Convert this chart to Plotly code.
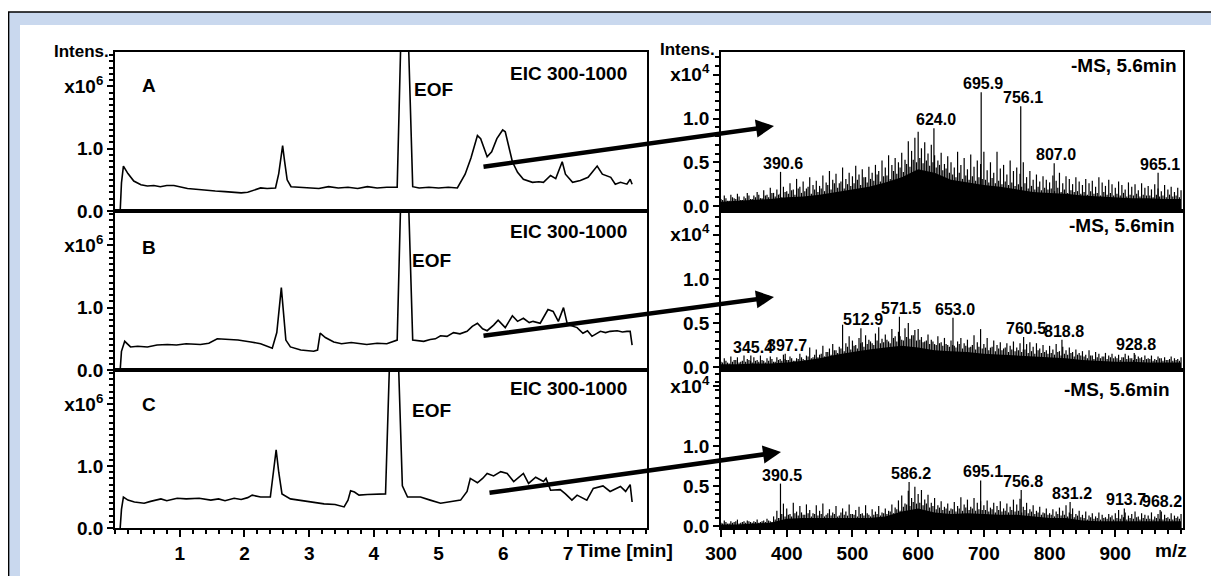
import plotly.graph_objects as go

W, H = 1219, 576
OFF = 8  # page body margin of the html page
FONT = "Liberation Sans"

# ---------------- chromatogram data (time [min], intensity x10^6) ----------------
time_a = [0.08,0.10,0.13,0.20,0.29,0.40,0.50,0.60,0.70,0.80,0.91,1.00,1.12,1.25,1.40,1.55,1.70,1.84,1.95,2.05,
          2.15,2.25,2.35,2.48,2.53,2.59,2.62,2.66,2.72,2.85,3.00,3.15,3.30,3.45,3.60,3.75,3.90,4.05,4.20,4.36,
          4.47,4.60,4.70,4.85,5.00,5.15,5.29,5.41,5.50,5.60,5.65,5.75,5.82,5.90,5.99,6.03,6.14,6.22,6.31,6.45,
          6.55,6.62,6.73,6.81,6.91,6.96,7.07,7.19,7.31,7.45,7.53,7.66,7.73,7.81,7.91,7.96,7.99]
int_a = [0.0,0.45,0.72,0.60,0.48,0.42,0.40,0.41,0.39,0.41,0.41,0.39,0.36,0.35,0.33,0.32,0.31,0.30,0.29,0.30,
         0.33,0.37,0.36,0.37,0.60,1.05,0.80,0.50,0.39,0.38,0.38,0.36,0.39,0.37,0.38,0.36,0.39,0.37,0.38,0.38,
         5.0,0.39,0.37,0.38,0.37,0.38,0.37,0.59,0.85,1.21,1.16,0.87,0.95,1.16,1.30,1.27,0.79,0.62,0.51,0.46,
         0.47,0.46,0.57,0.52,0.79,0.59,0.46,0.49,0.54,0.72,0.59,0.54,0.43,0.46,0.43,0.51,0.43]

time_b = [0.08,0.10,0.15,0.24,0.35,0.50,0.65,0.81,0.95,1.10,1.32,1.45,1.58,1.75,1.90,2.10,2.25,2.43,2.50,2.57,
          2.61,2.64,2.71,2.87,3.07,3.13,3.17,3.25,3.38,3.50,3.65,3.89,4.05,4.20,4.36,4.47,4.60,4.77,4.87,4.95,
          5.03,5.13,5.23,5.33,5.44,5.52,5.60,5.68,5.75,5.85,5.92,6.03,6.14,6.22,6.31,6.40,6.46,6.57,6.69,6.77,
          6.85,6.93,6.99,7.14,7.23,7.30,7.37,7.50,7.58,7.65,7.76,7.84,7.91,7.96,7.99]
int_b = [0.0,0.30,0.46,0.37,0.38,0.37,0.40,0.41,0.40,0.42,0.41,0.43,0.50,0.49,0.48,0.45,0.42,0.35,0.60,1.32,
         0.90,0.48,0.37,0.32,0.30,0.32,0.59,0.52,0.45,0.42,0.44,0.41,0.43,0.42,0.48,5.0,0.48,0.46,0.49,0.50,
         0.55,0.54,0.60,0.58,0.62,0.70,0.75,0.66,0.63,0.72,0.80,0.68,0.87,0.78,0.83,0.76,0.78,0.75,0.97,0.94,
         0.78,1.00,0.73,0.68,0.59,0.63,0.54,0.62,0.60,0.62,0.63,0.61,0.62,0.62,0.40]

time_c = [0.08,0.10,0.13,0.20,0.30,0.45,0.55,0.71,0.80,0.96,1.10,1.30,1.48,1.60,1.70,1.84,1.95,2.05,2.12,2.25,
          2.40,2.45,2.49,2.53,2.58,2.71,2.85,2.97,3.10,3.23,3.40,3.54,3.60,3.64,3.70,3.77,3.90,4.05,4.18,4.31,
          4.44,4.52,4.62,4.72,4.87,5.03,5.15,5.34,5.44,5.49,5.60,5.68,5.75,5.85,5.96,6.06,6.16,6.31,6.39,6.50,
          6.62,6.66,6.73,6.88,6.96,7.06,7.14,7.29,7.39,7.54,7.65,7.81,7.89,7.96,7.99]
int_c = [0.0,0.30,0.50,0.45,0.42,0.40,0.43,0.47,0.44,0.48,0.47,0.48,0.45,0.47,0.44,0.48,0.46,0.49,0.53,0.50,
         0.50,0.90,1.26,0.90,0.55,0.47,0.45,0.43,0.42,0.39,0.38,0.34,0.45,0.60,0.58,0.53,0.54,0.55,0.55,5.0,
         0.68,0.50,0.50,0.50,0.45,0.40,0.42,0.45,0.59,0.80,0.73,0.80,0.88,0.84,0.91,0.88,0.75,0.88,0.72,0.82,
         0.75,0.80,0.61,0.62,0.55,0.45,0.53,0.45,0.64,0.68,0.59,0.67,0.59,0.70,0.42]

# ---------------- mass spectra data (m/z, intensity x10^4) ----------------
spec_mz = list(range(300, 1001, 5))
spec_mz2 = [m + 2.5 for m in range(300, 1000, 5)]
spec_a = [0.08,0.12,0.06,0.13,0.09,0.14,0.07,0.11,0.15,0.08,
          0.12,0.16,0.09,0.18,0.13,0.21,0.15,0.19,0.14,0.22,
          0.17,0.26,0.19,0.31,0.22,0.28,0.20,0.33,0.24,0.29,
          0.23,0.35,0.27,0.40,0.30,0.37,0.26,0.44,0.31,0.38,
          0.34,0.46,0.36,0.42,0.33,0.45,0.38,0.47,0.40,0.52,
          0.44,0.58,0.47,0.55,0.50,0.61,0.53,0.74,0.63,0.78,
          0.85,0.66,0.73,0.60,0.70,0.58,0.52,0.61,0.48,0.57,
          0.50,0.44,0.62,0.47,0.55,0.42,0.59,0.45,0.52,0.48,
          0.62,0.41,0.50,0.38,0.62,0.43,0.47,0.36,0.52,0.40,
          0.44,0.37,0.50,0.33,0.40,0.30,0.36,0.28,0.34,0.30,
          0.27,0.35,0.29,0.38,0.26,0.34,0.31,0.25,0.33,0.28,
          0.24,0.31,0.26,0.29,0.22,0.33,0.27,0.23,0.30,0.25,
          0.21,0.28,0.24,0.19,0.27,0.22,0.25,0.18,0.26,0.21,
          0.23,0.19,0.25,0.20,0.17,0.24,0.19,0.22,0.16,0.21,
          0.18]
spec_a2 = [0.07,0.09,0.06,0.10,0.08,0.11,0.07,0.09,0.12,0.08,
           0.10,0.13,0.09,0.12,0.10,0.15,0.11,0.13,0.10,0.16,
           0.14,0.18,0.13,0.20,0.15,0.17,0.22,0.14,0.19,0.16,
           0.20,0.17,0.24,0.19,0.26,0.21,0.28,0.20,0.25,0.23,
           0.26,0.30,0.24,0.33,0.27,0.31,0.29,0.36,0.28,0.34,
           0.35,0.31,0.40,0.37,0.44,0.39,0.48,0.45,0.53,0.50,
           0.55,0.49,0.52,0.46,0.50,0.44,0.47,0.41,0.43,0.38,
           0.36,0.33,0.38,0.31,0.35,0.30,0.34,0.29,0.33,0.31,
           0.30,0.27,0.32,0.26,0.29,0.25,0.28,0.24,0.27,0.23,
           0.25,0.22,0.26,0.20,0.23,0.19,0.22,0.18,0.21,0.19,
           0.20,0.17,0.21,0.16,0.19,0.15,0.18,0.16,0.17,0.14,
           0.16,0.13,0.17,0.14,0.15,0.12,0.16,0.13,0.15,0.12,
           0.14,0.12,0.15,0.11,0.13,0.12,0.14,0.11,0.13,0.12,
           0.12,0.10,0.13,0.11,0.12,0.10,0.13,0.11,0.12,0.10]
spec_b = [0.06,0.10,0.05,0.12,0.08,0.11,0.06,0.13,0.09,0.07,
          0.11,0.08,0.13,0.07,0.10,0.12,0.06,0.11,0.09,0.14,
          0.08,0.12,0.07,0.10,0.15,0.09,0.13,0.22,0.11,0.20,
          0.14,0.24,0.17,0.21,0.26,0.19,0.23,0.48,0.27,0.35,
          0.30,0.25,0.33,0.28,0.36,0.31,0.27,0.38,0.45,0.32,
          0.37,0.29,0.43,0.35,0.40,0.31,0.44,0.50,0.36,0.42,
          0.43,0.34,0.29,0.37,0.31,0.26,0.35,0.28,0.33,0.25,
          0.30,0.24,0.29,0.33,0.27,0.31,0.23,0.36,0.28,0.43,
          0.26,0.33,0.22,0.30,0.25,0.28,0.21,0.27,0.24,0.29,
          0.22,0.27,0.20,0.26,0.28,0.23,0.27,0.21,0.25,0.19,
          0.24,0.20,0.26,0.18,0.23,0.19,0.22,0.17,0.20,0.16,
          0.18,0.14,0.19,0.13,0.17,0.15,0.12,0.16,0.13,0.15,
          0.12,0.14,0.11,0.15,0.13,0.10,0.14,0.12,0.11,0.13,
          0.10,0.13,0.09,0.12,0.10,0.11,0.08,0.12,0.10,0.09,
          0.11]
spec_b2 = [0.05,0.07,0.04,0.06,0.08,0.05,0.07,0.06,0.08,0.05,
           0.07,0.06,0.08,0.05,0.07,0.09,0.06,0.08,0.07,0.09,
           0.08,0.10,0.07,0.09,0.11,0.08,0.12,0.10,0.14,0.11,
           0.15,0.12,0.17,0.14,0.19,0.16,0.21,0.18,0.23,0.20,
           0.24,0.21,0.27,0.23,0.26,0.29,0.25,0.30,0.27,0.28,
           0.31,0.27,0.33,0.29,0.35,0.30,0.34,0.32,0.36,0.30,
           0.31,0.28,0.30,0.26,0.29,0.25,0.27,0.24,0.26,0.23,
           0.25,0.22,0.26,0.21,0.24,0.22,0.25,0.20,0.23,0.21,
           0.22,0.19,0.23,0.18,0.21,0.19,0.22,0.17,0.20,0.18,
           0.19,0.17,0.20,0.16,0.18,0.15,0.19,0.16,0.17,0.15,
           0.16,0.14,0.17,0.13,0.15,0.14,0.16,0.12,0.14,0.13,
           0.12,0.10,0.13,0.09,0.11,0.10,0.12,0.09,0.11,0.10,
           0.10,0.08,0.11,0.09,0.10,0.08,0.09,0.10,0.08,0.09,
           0.09,0.07,0.08,0.10,0.07,0.08,0.09,0.07,0.08,0.07]
spec_c = [0.04,0.07,0.03,0.06,0.05,0.08,0.04,0.06,0.07,0.05,
          0.06,0.08,0.05,0.07,0.09,0.06,0.12,0.19,0.10,0.28,
          0.22,0.15,0.29,0.18,0.25,0.14,0.27,0.20,0.16,0.26,
          0.19,0.28,0.14,0.21,0.17,0.25,0.13,0.22,0.18,0.27,
          0.15,0.20,0.24,0.16,0.26,0.14,0.21,0.18,0.25,0.17,
          0.22,0.19,0.27,0.23,0.32,0.38,0.28,0.44,0.35,0.49,
          0.40,0.45,0.33,0.39,0.29,0.35,0.26,0.31,0.24,0.28,
          0.22,0.30,0.25,0.36,0.27,0.33,0.24,0.35,0.29,0.31,
          0.26,0.32,0.23,0.29,0.25,0.31,0.22,0.28,0.24,0.33,
          0.27,0.34,0.24,0.29,0.21,0.26,0.19,0.24,0.17,0.22,
          0.16,0.21,0.18,0.23,0.19,0.26,0.17,0.22,0.15,0.19,
          0.14,0.18,0.13,0.16,0.12,0.17,0.14,0.11,0.15,0.13,
          0.16,0.20,0.14,0.17,0.13,0.15,0.18,0.12,0.16,0.14,
          0.13,0.17,0.12,0.15,0.18,0.14,0.11,0.16,0.13,0.12,
          0.15]
spec_c2 = [0.03,0.05,0.03,0.04,0.06,0.03,0.05,0.04,0.06,0.04,
           0.05,0.04,0.06,0.05,0.07,0.05,0.08,0.10,0.15,0.12,
           0.14,0.12,0.16,0.13,0.17,0.14,0.16,0.12,0.15,0.13,
           0.15,0.12,0.16,0.13,0.15,0.12,0.17,0.14,0.13,0.15,
           0.14,0.12,0.15,0.13,0.16,0.12,0.14,0.15,0.13,0.16,
           0.15,0.18,0.16,0.21,0.19,0.24,0.27,0.25,0.30,0.28,
           0.29,0.26,0.28,0.23,0.25,0.21,0.23,0.20,0.22,0.19,
           0.21,0.18,0.22,0.19,0.23,0.20,0.22,0.19,0.21,0.20,
           0.20,0.18,0.21,0.17,0.20,0.18,0.19,0.17,0.20,0.18,
           0.19,0.17,0.20,0.16,0.18,0.15,0.17,0.14,0.16,0.14,
           0.14,0.12,0.15,0.13,0.14,0.12,0.15,0.11,0.13,0.11,
           0.10,0.08,0.11,0.09,0.10,0.08,0.10,0.09,0.11,0.08,
           0.10,0.09,0.11,0.08,0.10,0.09,0.11,0.08,0.10,0.09,
           0.09,0.08,0.10,0.09,0.08,0.10,0.09,0.08,0.10,0.09]

floor_mz = list(range(300, 1001, 25))
floor_a = [0.05,0.06,0.07,0.08,0.10,0.11,0.13,0.16,0.19,0.22,0.27,0.33,0.42,0.38,0.30,
           0.27,0.24,0.22,0.19,0.16,0.15,0.14,0.12,0.11,0.10,0.09,0.09,0.08,0.08]
floor_b = [0.03,0.03,0.04,0.04,0.05,0.07,0.10,0.14,0.17,0.20,0.22,0.24,0.22,0.19,0.18,
           0.17,0.15,0.14,0.13,0.12,0.11,0.10,0.08,0.07,0.06,0.06,0.05,0.05,0.05]
floor_c = [0.02,0.02,0.03,0.04,0.09,0.10,0.10,0.10,0.10,0.10,0.12,0.18,0.22,0.17,0.15,
           0.16,0.15,0.14,0.14,0.12,0.10,0.10,0.07,0.06,0.06,0.06,0.06,0.06,0.06]

peaks_a_mz = [390.6, 624.0, 695.9, 756.1, 807.0, 965.1]
peaks_a_int = [0.39, 0.89, 1.30, 1.14, 0.49, 0.38]
peaks_b_mz = [345.4, 397.7, 512.9, 571.5, 653.0, 760.5, 818.8, 928.8]
peaks_b_int = [0.13, 0.15, 0.44, 0.57, 0.56, 0.34, 0.31, 0.16]
peaks_c_mz = [390.5, 586.2, 695.1, 756.8, 831.2, 913.7, 968.2]
peaks_c_int = [0.53, 0.55, 0.57, 0.45, 0.30, 0.22, 0.20]

panel_letters = ["A", "B", "C"]
time_ticks = [1, 2, 3, 4, 5, 6, 7]
mz_ticks = [300, 400, 500, 600, 700, 800, 900]

# ---------------- helpers (page pixel -> paper fraction) ----------------
def px(x):
    return (x - OFF) / W

def py(y):
    return 1 - (y - OFF) / H

def sticks(mzs, vals, base):
    xs, ys = [], []
    for m, v in zip(mzs, vals):
        xs += [m, m, None]
        ys += [base, v, None]
    return xs, ys

fig = go.Figure()

left_dom = [px(115), px(647)]
right_dom = [px(721), px(1183)]
row_dom = [[py(211), py(52)], [py(370), py(211)], [py(528), py(370)]]
right_ranges = [[-0.057, 1.76], [-0.034, 1.77], [-0.025, 1.95]]
right_x10 = [1.5, 1.5, 1.75]

chroms = [(time_a, int_a), (time_b, int_b), (time_c, int_c)]
spectra = [(spec_a, spec_a2, floor_a, peaks_a_mz, peaks_a_int),
           (spec_b, spec_b2, floor_b, peaks_b_mz, peaks_b_int),
           (spec_c, spec_c2, floor_c, peaks_c_mz, peaks_c_int)]

tickfont = dict(family=FONT, size=19, color="black", weight="bold")
layout = {}

for i in range(3):
    lx, ly = i + 1, i + 1
    rx, ry = i + 4, i + 4
    t, v = chroms[i]
    fig.add_trace(go.Scatter(x=t, y=v, mode="lines", line=dict(color="black", width=1.6),
                             xaxis=f"x{lx}", yaxis=f"y{ly}", showlegend=False, hoverinfo="skip"))
    sv, sv2, fl, pm, pi = spectra[i]
    base = right_ranges[i][0]
    fig.add_trace(go.Scatter(x=[300, 1000], y=[base, base], mode="lines", line=dict(width=0),
                             xaxis=f"x{rx}", yaxis=f"y{ry}", showlegend=False, hoverinfo="skip"))
    fig.add_trace(go.Scatter(x=floor_mz, y=fl, mode="lines", line=dict(width=0, color="black"),
                             fill="tonexty", fillcolor="black",
                             xaxis=f"x{rx}", yaxis=f"y{ry}", showlegend=False, hoverinfo="skip"))
    xs, ys = sticks(spec_mz + spec_mz2 + pm, sv + sv2 + pi, base)
    fig.add_trace(go.Scatter(x=xs, y=ys, mode="lines", line=dict(color="black", width=1.2),
                             xaxis=f"x{rx}", yaxis=f"y{ry}", showlegend=False, hoverinfo="skip",
                             connectgaps=False))

    bottom = (i == 2)
    common_x = dict(showline=True, mirror=True, linecolor="black", linewidth=1.8,
                    showgrid=False, zeroline=False, tickfont=tickfont, automargin=False,
                    tickcolor="black", tickwidth=1.6)
    lxd = dict(common_x, domain=left_dom, range=[0, 8.22], anchor=f"y{ly}")
    rxd = dict(common_x, domain=right_dom, range=[300, 1003], anchor=f"y{ry}")
    if bottom:
        lxd.update(ticks="outside", ticklen=7, tickmode="array", tickvals=time_ticks,
                   ticktext=[str(k) for k in time_ticks],
                   minor=dict(ticks="outside", dtick=0.2, tick0=0, ticklen=4, tickwidth=1.6, tickcolor="black"))
        rxd.update(ticks="outside", ticklen=7, tickmode="array", tickvals=mz_ticks,
                   ticktext=[str(k) for k in mz_ticks],
                   minor=dict(ticks="outside", dtick=20, tick0=300, ticklen=4, tickwidth=1.6, tickcolor="black"))
    else:
        lxd.update(ticks="", showticklabels=False)
        rxd.update(ticks="", showticklabels=False)
    layout[f"xaxis{lx}"] = lxd
    layout[f"xaxis{rx}"] = rxd

    common_y = dict(showline=True, mirror=True, linecolor="black", linewidth=1.8,
                    showgrid=False, zeroline=False, tickfont=tickfont, ticks="outside",
                    automargin=False,
                    tickcolor="black", tickwidth=1.6, ticklen=6, tickmode="array")
    layout[f"yaxis{ly}"] = dict(common_y, domain=row_dom[i], range=[0, 2.55], anchor=f"x{lx}",
                                tickvals=[0, 1, 2], ticktext=["0.0", "1.0", "x10<sup>6</sup>"],
                                minor=dict(ticks="outside", dtick=0.1, tick0=0, ticklen=4,
                                           tickwidth=1.6, tickcolor="black"))
    layout[f"yaxis{ry}"] = dict(common_y, domain=row_dom[i], range=right_ranges[i], anchor=f"x{rx}",
                                tickvals=[0, 0.5, 1.0, right_x10[i]],
                                ticktext=["0.0", "0.5", "1.0", "x10<sup>4</sup>"],
                                minor=dict(ticks="outside", dtick=0.1, tick0=0, ticklen=4,
                                           tickwidth=1.6, tickcolor="black"))

fig.update_layout(**layout)

annots = []
def txt(x, y, s, size=19, xanchor="center", yanchor="middle"):
    annots.append(dict(x=px(x), y=py(y), xref="paper", yref="paper", text=s, showarrow=False,
                       xanchor=xanchor, yanchor=yanchor,
                       font=dict(family=FONT, size=size, color="black", weight="bold")))

txt(111, 52, "Intens.", 17, xanchor="right")
txt(717, 50, "Intens.", 17, xanchor="right")

letter_y = [86, 247, 404]
eof_y = [89, 260, 410]
eof_x = [433, 431, 431]
eic_y = [73, 232, 388]
ms_y = [65, 225, 389]
ms_x = [1179, 1177, 1172]
for i in range(3):
    txt(149, letter_y[i], panel_letters[i], 19)
    txt(eof_x[i], eof_y[i], "EOF", 19)
    txt(629, eic_y[i], "EIC 300-1000", 19, xanchor="right")
    txt(ms_x[i], ms_y[i], "-MS, 5.6min", 19, xanchor="right")

txt(575, 550, "Time [min]", 19, xanchor="left")
txt(1171, 550, "m/z", 19)

peak_sets = [(peaks_a_mz, peaks_a_int), (peaks_b_mz, peaks_b_int), (peaks_c_mz, peaks_c_int)]
for i, (pm, pi) in enumerate(peak_sets):
    for m, v in zip(pm, pi):
        annots.append(dict(x=m, y=v, xref=f"x{i+4}", yref=f"y{i+4}", text=f"{m:.1f}",
                           showarrow=False, xanchor="center", yanchor="bottom", xshift=2, yshift=-2,
                           font=dict(family=FONT, size=16, color="black", weight="bold")))

arrows = [((482, 167), (774, 126)), ((482, 336), (774, 297)), ((488, 493), (781, 452))]
for (sx, sy), (tx, ty) in arrows:
    annots.append(dict(x=px(tx), y=py(ty), xref="paper", yref="paper", text="", showarrow=True,
                       ax=sx - tx, ay=sy - ty, axref="pixel", ayref="pixel",
                       arrowhead=2, arrowsize=0.8, arrowwidth=4.5, arrowcolor="black"))

shapes = [
    dict(type="rect", xref="paper", yref="paper", x0=0, x1=1, y0=0, y1=py(12),
         fillcolor="#c9d8ee", line=dict(width=0), layer="below"),
    dict(type="rect", xref="paper", yref="paper", x0=px(20), x1=1, y0=0, y1=py(25),
         fillcolor="white", line=dict(width=0), layer="below"),
    dict(type="line", xref="paper", yref="paper", x0=0, x1=1, y0=py(12), y1=py(12),
         line=dict(color="black", width=1.5), layer="below"),
    dict(type="line", xref="paper", yref="paper", x0=0.0005, x1=0.0005, y0=0, y1=py(12),
         line=dict(color="black", width=1.5), layer="below"),
]

fig.update_layout(width=W, height=H, autosize=False,
                  margin=dict(l=0, r=0, t=0, b=0, pad=0, autoexpand=False),
                  paper_bgcolor="white", plot_bgcolor="rgba(0,0,0,0)",
                  annotations=annots, shapes=shapes, showlegend=False)

fig.write_html("out.html")
